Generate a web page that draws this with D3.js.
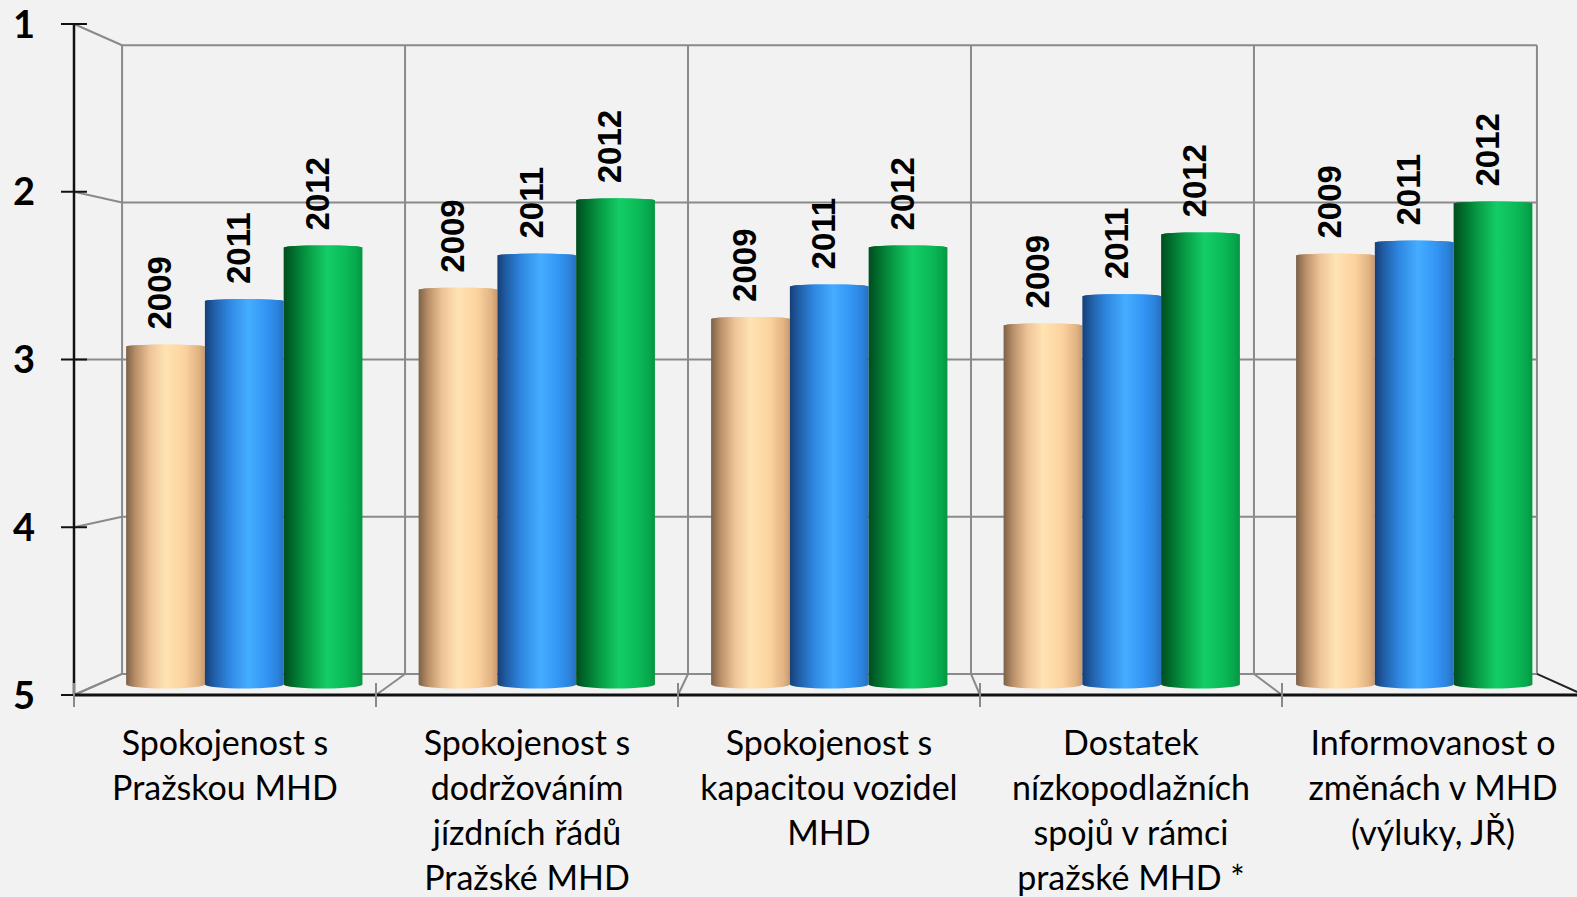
<!DOCTYPE html>
<html>
<head>
<meta charset="utf-8">
<script src="https://cdn.jsdelivr.net/npm/d3@7"></script>
<style>
  html, body { margin: 0; padding: 0; background: #f2f2f2; }
  svg { display: block; }
</style>
</head>
<body>
<svg id="chart" width="1577" height="897"></svg>
<script>
// ---------- data ----------
const categories = [
  ["Spokojenost s", "Pražskou MHD"],
  ["Spokojenost s", "dodržováním", "jízdních řádů", "Pražské MHD"],
  ["Spokojenost s", "kapacitou vozidel", "MHD"],
  ["Dostatek", "nízkopodlažních", "spojů v rámci", "pražské MHD *"],
  ["Informovanost o", "změnách v MHD", "(výluky, JŘ)"]
];
const seriesNames = ["2009", "2011", "2012"];
const values2009 = [2.92, 2.57, 2.75, 2.79, 2.36];
const values2011 = [2.64, 2.36, 2.55, 2.61, 2.28];
const values2012 = [2.31, 2.02, 2.31, 2.23, 2.04];
const yTicks = [1, 2, 3, 4, 5];

const seriesValues = [values2009, values2011, values2012];

// ---------- geometry ----------
const svg = d3.select("#chart");
const W = 1577, H = 897;
const VX = 837, VY = 361, DEPTH = 0.063;

const catIdx = categories.map((d, i) => i);
const x = d3.scaleBand().domain(catIdx).range([74, 1584]).paddingInner(0).paddingOuter(0);
const xs = d3.scaleBand().domain(seriesNames).range([29, x.bandwidth() - 29]).padding(0);
const y = d3.scaleLinear().domain([1, 5]).range([24, 695]);

function proj(px, py, t) {
  const s = 1 - DEPTH * t;
  return [VX + s * (px - VX), VY + s * (py - VY)];
}

// ---------- gradients ----------
const defs = svg.append("defs");
const grads = {
  "2009": [[0, "#7d6148"], [0.12, "#b88f68"], [0.3, "#eec397"], [0.5, "#ffe3b2"], [0.75, "#fbd29e"], [0.92, "#e2b383"], [1, "#c89a6c"]],
  "2011": [[0, "#173f78"], [0.12, "#215fa8"], [0.3, "#2e86e0"], [0.55, "#45adff"], [0.78, "#3395f4"], [0.92, "#2c82da"], [1, "#2570c0"]],
  "2012": [[0, "#004d1f"], [0.12, "#006c2c"], [0.3, "#079a44"], [0.55, "#14cd66"], [0.78, "#0bbb58"], [0.92, "#07a84d"], [1, "#05963f"]]
};
seriesNames.forEach(s => {
  const g = defs.append("linearGradient").attr("id", "g" + s)
    .attr("x1", "0%").attr("x2", "100%").attr("y1", "0%").attr("y2", "0%");
  grads[s].forEach(([o, c]) => g.append("stop").attr("offset", o).attr("stop-color", c));
});

// ---------- background ----------
svg.append("rect").attr("width", W).attr("height", H).attr("fill", "#f2f2f2");

const gridColor = "#8a8a8a";
const grid = svg.append("g").attr("stroke", gridColor).attr("stroke-width", 2).attr("fill", "none");

const x0 = x.range()[0], x1 = x.range()[1];
yTicks.forEach(v => {
  const a = proj(x0, y(v), 1), b = proj(x1, y(v), 1);
  grid.append("line").attr("x1", a[0]).attr("y1", a[1]).attr("x2", b[0]).attr("y2", b[1]);
  const c = proj(x0, y(v), 0);
  grid.append("line").attr("x1", c[0]).attr("y1", c[1]).attr("x2", a[0]).attr("y2", a[1]);
});
const bounds = catIdx.map(i => x(i)).concat([x1]);
bounds.forEach((bx, i) => {
  const top = proj(bx, y(1), 1), bot = proj(bx, y(5), 1), fr = proj(bx, y(5), 0);
  grid.append("line").attr("x1", top[0]).attr("y1", top[1]).attr("x2", bot[0]).attr("y2", bot[1]);
  grid.append("line").attr("x1", fr[0]).attr("y1", fr[1]).attr("x2", bot[0]).attr("y2", bot[1])
    .attr("stroke", i === bounds.length - 1 ? "#222" : gridColor);
});

// ---------- bars (cylinders) ----------
const bars = svg.append("g");
const labels = svg.append("g");
seriesNames.forEach((s, si) => {
  seriesValues[si].forEach((v, ci) => {
    const left = x(ci) + xs(s), right = left + xs.bandwidth();
    const pTop = proj(left, y(v), 0.5);
    const pTopR = proj(right, y(v), 0.5);
    const pBot = proj(left, y(5), 0.5);
    const lx = pTop[0], rx = pTopR[0], ty = pTop[1], by = pBot[1];
    const r = (rx - lx) / 2, ryB = 4, ryT = 2;
    const path = `M${lx},${ty} L${lx},${by} A${r},${ryB} 0 0 0 ${rx},${by} L${rx},${ty} A${r},${ryT} 0 0 0 ${lx},${ty} Z`;
    bars.append("path").attr("d", path).attr("fill", `url(#g${s})`);
    bars.append("ellipse").attr("cx", (lx + rx) / 2).attr("cy", ty).attr("rx", r).attr("ry", ryT)
      .attr("fill", `url(#g${s})`).attr("opacity", 0.9);
    labels.append("text")
      .attr("transform", `translate(${(lx + rx) / 2 - 6},${ty - 17}) rotate(-90)`)
      .attr("dy", "0.36em")
      .attr("text-anchor", "start")
      .attr("font-family", "'Liberation Sans', Arial, sans-serif")
      .attr("font-weight", "bold")
      .attr("font-size", 33)
      .attr("fill", "#000")
      .text(s);
  });
});

// ---------- front axes ----------
const axes = svg.append("g");
axes.append("line").attr("x1", x0).attr("y1", y(1)).attr("x2", x0).attr("y2", y(5))
  .attr("stroke", "#111").attr("stroke-width", 2.5);
axes.append("line").attr("x1", x0).attr("y1", y(5)).attr("x2", x1).attr("y2", y(5))
  .attr("stroke", "#111").attr("stroke-width", 3);
yTicks.forEach(v => {
  axes.append("line").attr("x1", 61).attr("x2", 87).attr("y1", y(v)).attr("y2", y(v))
    .attr("stroke", "#111").attr("stroke-width", 2);
  axes.append("text").attr("x", 24).attr("y", y(v)).attr("dy", "0.36em")
    .attr("text-anchor", "middle")
    .attr("font-family", "Lato, 'Open Sans', sans-serif").attr("font-weight", "bold")
    .attr("font-size", 38).attr("fill", "#000").text(v);
});
bounds.forEach(bx => {
  axes.append("line").attr("x1", bx).attr("x2", bx).attr("y1", y(5) - 12).attr("y2", y(5) + 12)
    .attr("stroke", gridColor).attr("stroke-width", 2);
});

// ---------- category labels ----------
categories.forEach((lines, ci) => {
  const t = axes.append("text")
    .attr("text-anchor", "middle")
    .attr("font-family", "Lato, 'Open Sans', sans-serif")
    .attr("font-size", 34).attr("fill", "#000");
  lines.forEach((ln, li) => {
    t.append("tspan").attr("x", x(ci) + x.bandwidth() / 2).attr("y", 755 + li * 45).text(ln);
  });
});
</script>
</body>
</html>
